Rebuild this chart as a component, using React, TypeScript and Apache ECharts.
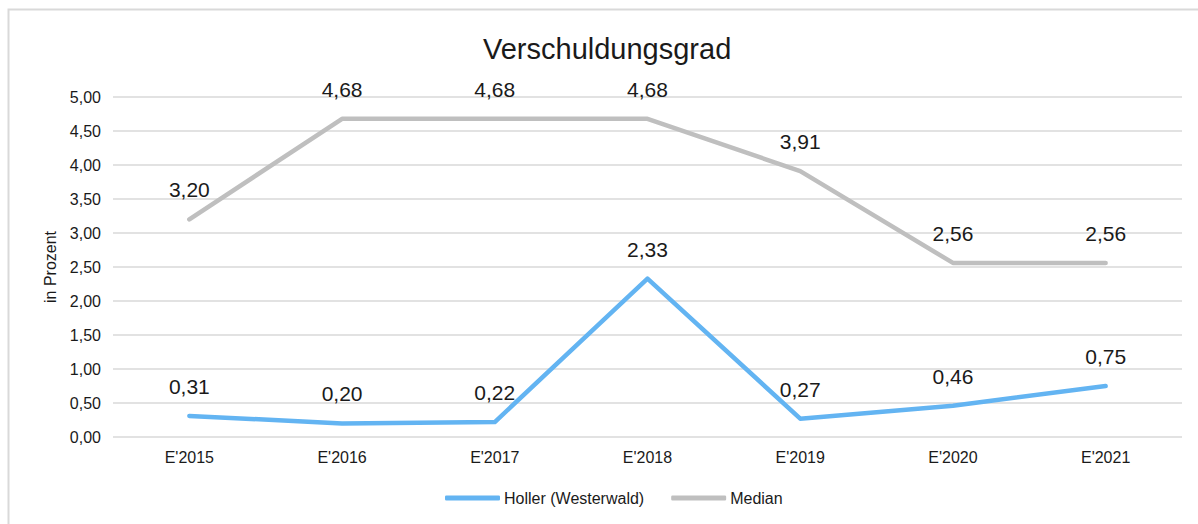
import React, { useEffect, useRef } from "react";
import * as echarts from "echarts";

const categories = ["E'2015", "E'2016", "E'2017", "E'2018", "E'2019", "E'2020", "E'2021"];
const holler = [0.31, 0.2, 0.22, 2.33, 0.27, 0.46, 0.75];
const median = [3.2, 4.68, 4.68, 4.68, 3.91, 2.56, 2.56];
const seriesNames = ["Holler (Westerwald)", "Median"];
const colors = ["#63b4f2", "#bfbfbf"];

const fmt = (v: number) => v.toFixed(2).replace(".", ",");

export default function App() {
  const ref = useRef<HTMLDivElement>(null);
  useEffect(() => {
    if (!ref.current) return;
    const chart = echarts.init(ref.current, undefined, { renderer: "svg" });
    const font = "Liberation Sans, Arial, sans-serif";
    const mkSeries = (name: string, data: number[], color: string) => ({
      name,
      type: "line",
      data,
      symbol: "circle",
      symbolSize: 0.01,
      itemStyle: { color },
      lineStyle: { color, width: 4.5, cap: "round", join: "round" },
      label: {
        show: true,
        position: "top",
        distance: 19,
        fontSize: 21,
        color: "#1a1a1a",
        fontFamily: font,
        formatter: (p: any) => fmt(p.value),
      },
      emphasis: { disabled: true },
    });
    chart.setOption({
      animation: false,
      textStyle: { fontFamily: font },
      graphic: [
        {
          type: "rect",
          shape: { x: 8.5, y: 9.5, width: 1200, height: 540 },
          style: { fill: "none", stroke: "#d9d9d9", lineWidth: 2 },
          silent: true,
        },
      ],
      title: {
        text: "Verschuldungsgrad",
        left: 478,
        top: 29,
        textStyle: { fontSize: 29, fontWeight: "normal", color: "#1a1a1a", fontFamily: font },
      },
      legend: {
        bottom: 13,
        left: 440,
        itemWidth: 55,
        itemHeight: 5,
        itemGap: 27,
        icon: "roundRect",
        textStyle: { fontSize: 16, color: "#1a1a1a", fontFamily: font, padding: [0, 0, 0, -1] },
        data: seriesNames,
      },
      grid: { left: 113, right: 16, top: 97, bottom: 87 },
      xAxis: {
        type: "category",
        data: categories,
        boundaryGap: true,
        axisLine: { show: false },
        axisTick: { show: false },
        axisLabel: { fontSize: 16, color: "#1a1a1a", margin: 12, fontFamily: font },
      },
      yAxis: {
        type: "value",
        min: 0,
        max: 5,
        interval: 0.5,
        name: "in Prozent",
        nameLocation: "middle",
        nameGap: 52,
        nameTextStyle: { fontSize: 16, color: "#1a1a1a", fontFamily: font },
        axisLine: { show: false },
        axisTick: { show: false },
        splitLine: { lineStyle: { color: "#d9d9d9", width: 1.5 } },
        axisLabel: {
          fontSize: 16,
          color: "#1a1a1a",
          margin: 12,
          fontFamily: font,
          formatter: (v: number) => fmt(v),
        },
      },
      series: [
        mkSeries(seriesNames[0], holler, colors[0]),
        mkSeries(seriesNames[1], median, colors[1]),
      ],
    });
    return () => chart.dispose();
  }, []);
  return (
    <div
      ref={ref}
      style={{ position: "absolute", left: 0, top: 0, width: 1198, height: 524, background: "#fff" }}
    />
  );
}
